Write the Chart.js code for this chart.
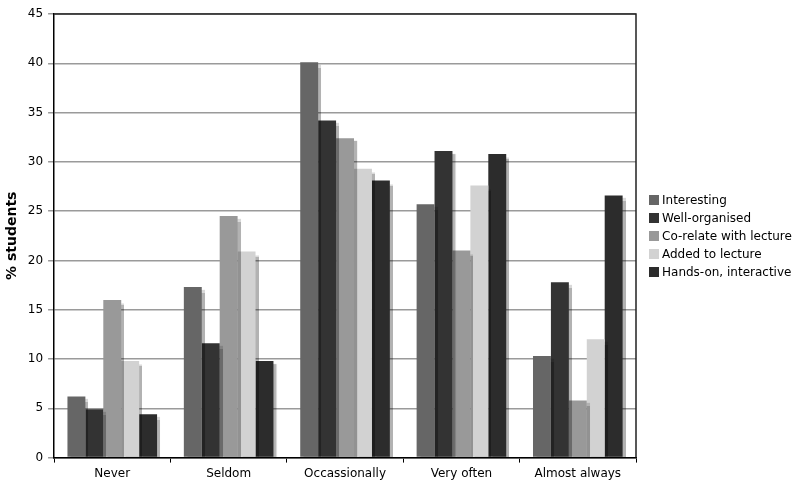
<!DOCTYPE html>
<html>
<head>
<meta charset="utf-8">
<script src="https://cdn.jsdelivr.net/npm/chart.js@4"></script>
<style>
  body { margin: 0; background: #fff; }
  #wrap { position: relative; width: 800px; height: 489px; }
  #leyenda { position: absolute; left: 649px; top: 191px; font-family: "DejaVu Sans"; font-size: 12px; color: #000; }
  #leyenda div { height: 18px; line-height: 18px; white-space: nowrap; }
  #leyenda span { display: inline-block; width: 10px; height: 10px; margin-right: 3px; vertical-align: -1px; }
</style>
</head>
<body>
<div id="wrap"><canvas id="bar-chart"></canvas><div id="leyenda"></div></div>
<script>
/* datos */
const categorias = ["Never", "Seldom", "Occassionally", "Very often", "Almost always"]
const interesting = [6.2, 17.3, 40.1, 25.7, 10.3]
const wellOrganised = [4.9, 11.6, 34.2, 31.1, 17.8]
const coRelate = [16.0, 24.5, 32.4, 21.0, 5.8]
const addedLecture = [9.8, 20.9, 29.3, 27.6, 12.0]
const handsOn = [4.4, 9.8, 28.1, 30.8, 26.6]

/* sombra de las barras y marco del area */
const sombra = {
    id: "sombra",
    beforeDatasetsDraw(chart) {
        const ctx = chart.ctx
        ctx.save()
        ctx.shadowColor = "rgba(0,0,0,0.3)"
        ctx.shadowOffsetX = 3
        ctx.shadowOffsetY = 3
        ctx.shadowBlur = 1
    },
    afterDatasetsDraw(chart) {
        chart.ctx.restore()
    },
    afterDraw(chart) {
        const { ctx, chartArea: a } = chart
        ctx.save()
        ctx.strokeStyle = "#222"
        ctx.lineWidth = 1.5
        ctx.beginPath()
        ctx.moveTo(a.left, a.top)
        ctx.lineTo(a.right, a.top)
        ctx.lineTo(a.right, a.bottom)
        ctx.stroke()
        ctx.restore()
    }
}

const contenedor = document.querySelector("#bar-chart").getContext("2d")

const barChar = new Chart(contenedor, {
    type: "bar",
    data: {
        labels: categorias,
        datasets: [
            { label: "Interesting", data: interesting, backgroundColor: "#666666" },
            { label: "Well-organised", data: wellOrganised, backgroundColor: "#333333" },
            { label: "Co-relate with lecture", data: coRelate, backgroundColor: "#999999" },
            { label: "Added to lecture", data: addedLecture, backgroundColor: "#d2d2d2" },
            { label: "Hands-on, interactive", data: handsOn, backgroundColor: "#2c2c2c" },
        ]
    },
    options: {
        responsive: true,
        maintainAspectRatio: false,
        animation: false,
        layout: { padding: { top: 14, right: 164, left: 2, bottom: 4 } },
        datasets: { bar: { categoryPercentage: 0.77, barPercentage: 1 } },
        plugins: {
            legend: { display: false },
            tooltip: { enabled: false }
        },
        scales: {
            x: {
                grid: { display: true, drawOnChartArea: false, color: "#000", tickLength: 5 },
                border: { color: "#000", width: 1.5 },
                ticks: { color: "#000", font: { family: "DejaVu Sans", size: 12 }, padding: 4 }
            },
            y: {
                min: 0,
                max: 45,
                ticks: { stepSize: 5, color: "#000", font: { family: "DejaVu Sans", size: 12 }, padding: 5 },
                grid: { color: "#9a9a9a", lineWidth: 1.5, tickLength: 6 },
                border: { color: "#000", width: 1.5 },
                title: {
                    display: true,
                    text: "% students",
                    color: "#000",
                    padding: 2,
                    font: { family: "DejaVu Sans", size: 14, weight: "bold" }
                }
            }
        }
    },
    plugins: [sombra]
})

/* leyenda html */
const leyenda = document.querySelector("#leyenda")
barChar.data.datasets.forEach(ds => {
    const fila = document.createElement("div")
    const caja = document.createElement("span")
    caja.style.background = ds.backgroundColor
    fila.appendChild(caja)
    fila.appendChild(document.createTextNode(ds.label))
    leyenda.appendChild(fila)
})
</script>
</body>
</html>
